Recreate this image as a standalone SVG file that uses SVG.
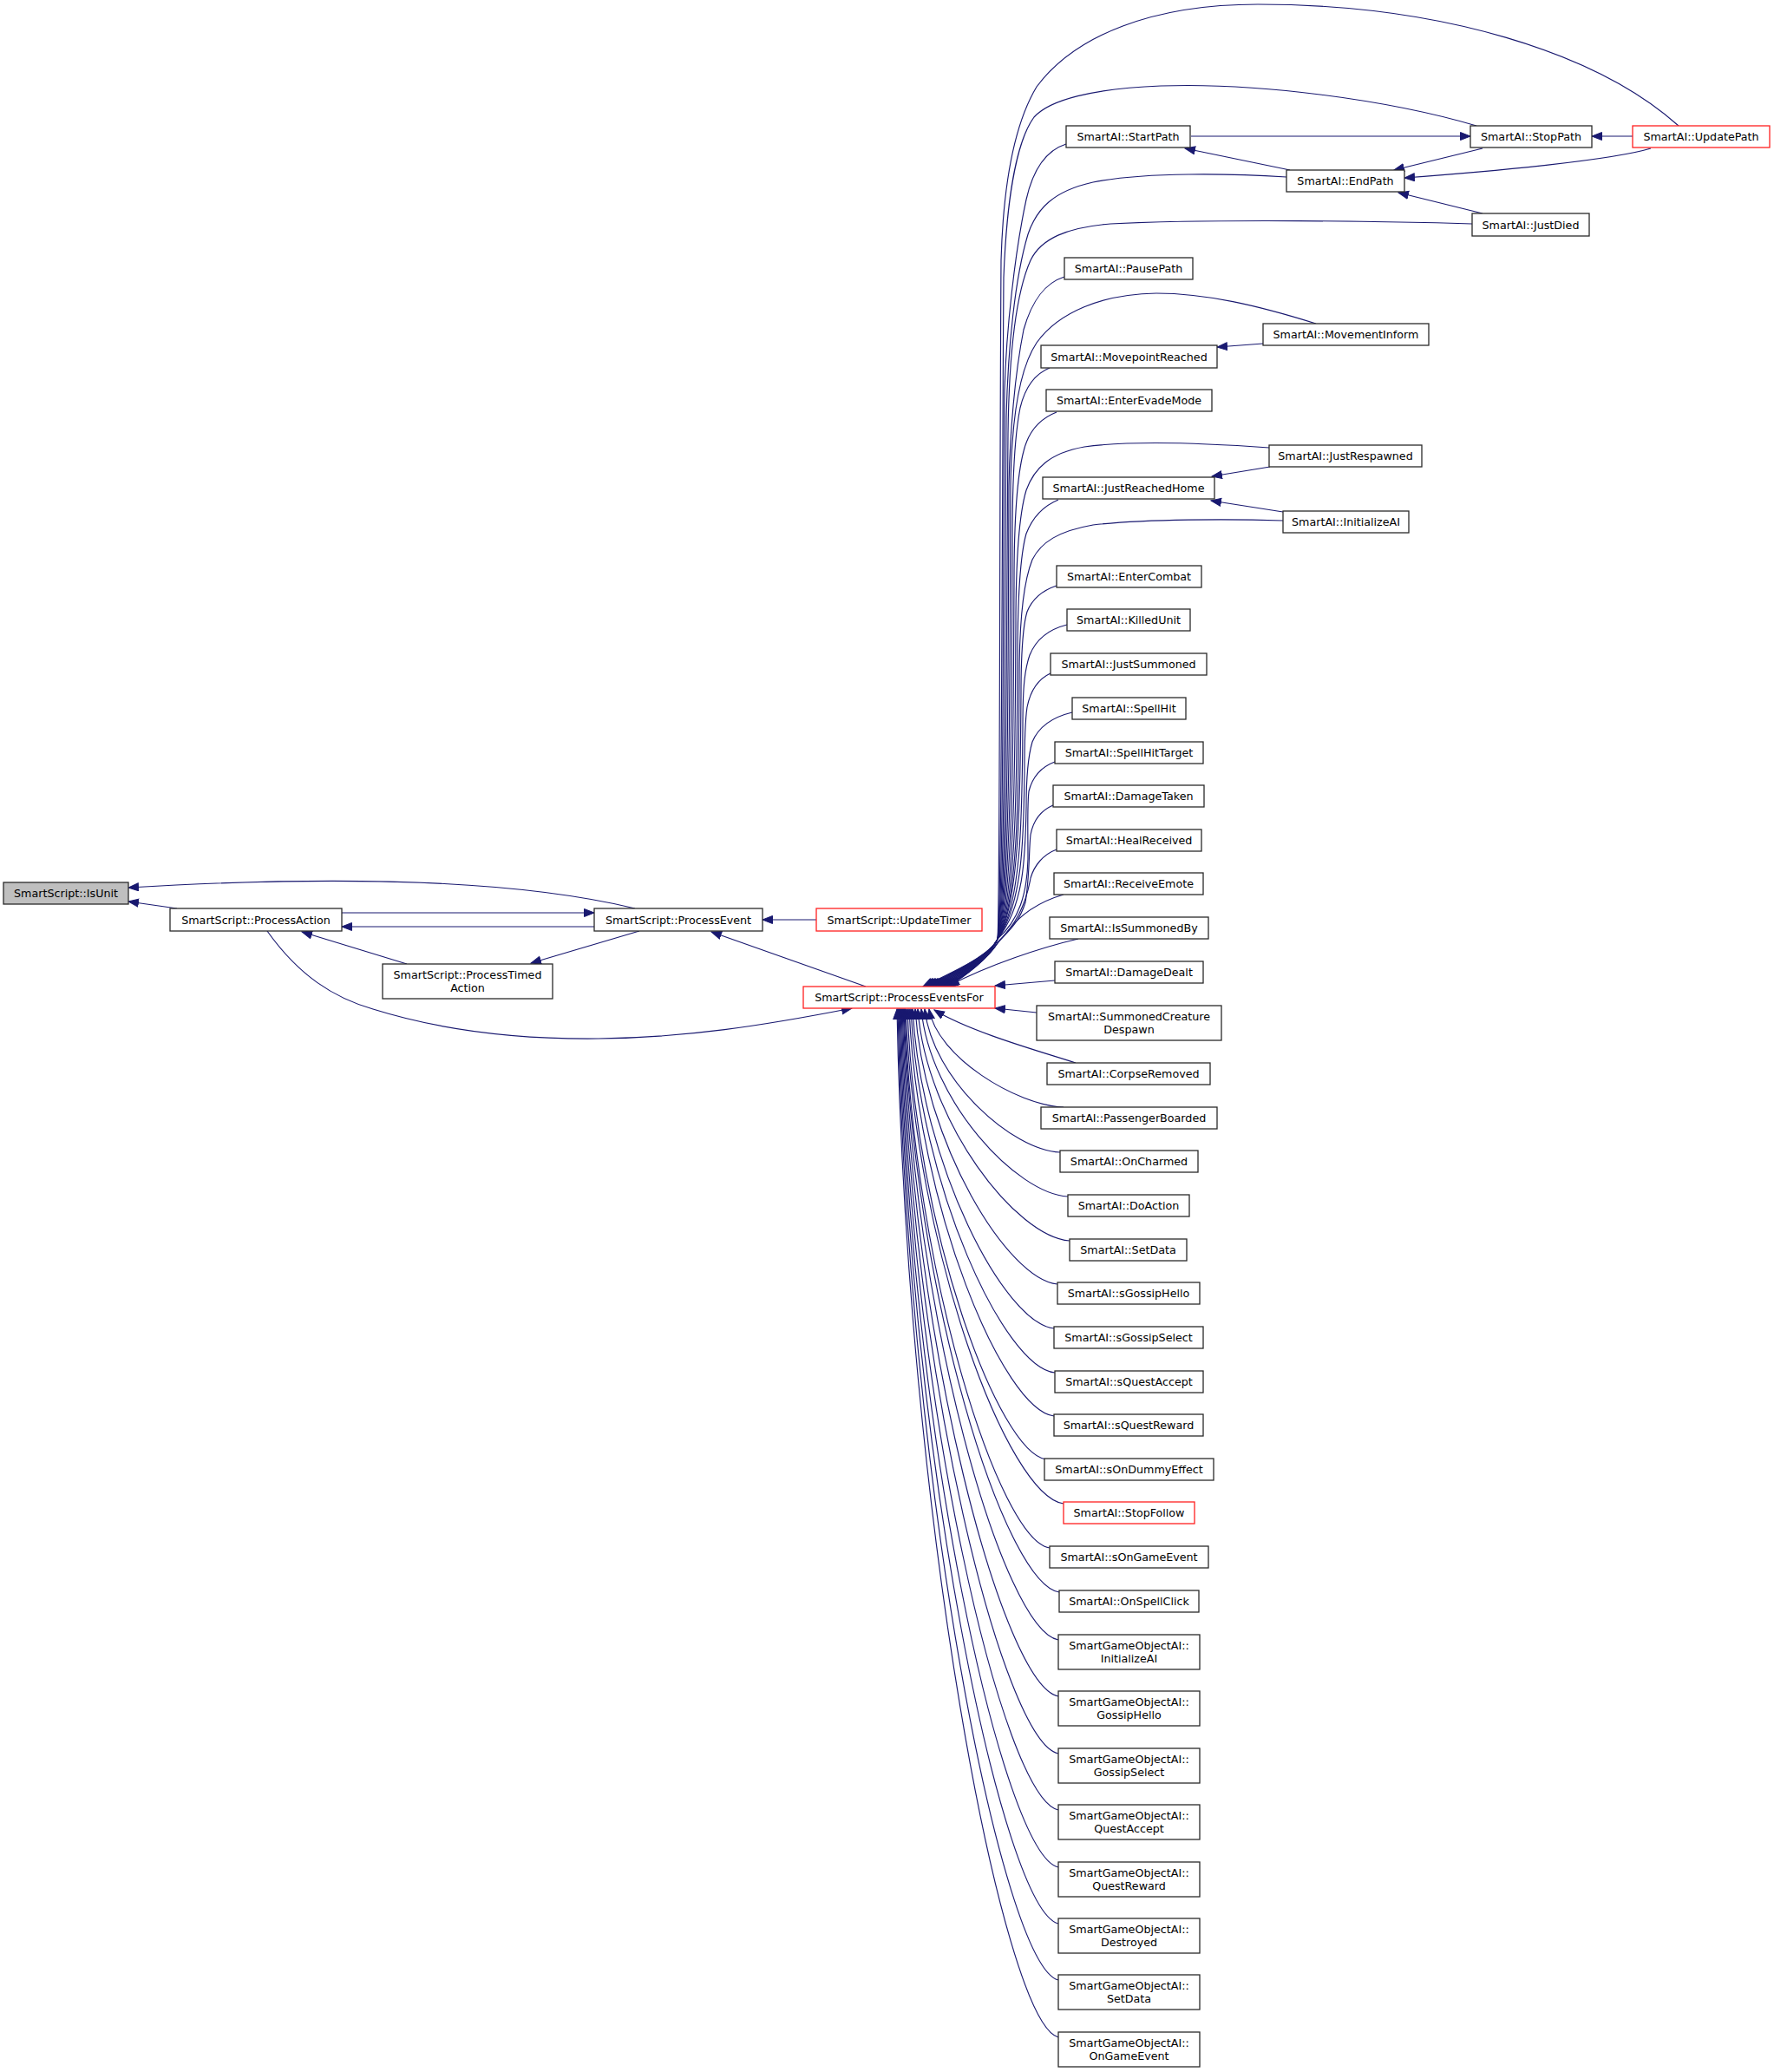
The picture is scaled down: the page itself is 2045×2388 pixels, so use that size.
<svg xmlns="http://www.w3.org/2000/svg" width="2045" height="2388" viewBox="0 0 2045 2388">
<style>
.node rect{fill:#ffffff;stroke:#2a2a2a;stroke-width:1.3}
.node.red rect{stroke:#ff2020}
.node.hl rect{fill:#bfbfbf}
.node text{font-family:"DejaVu Sans","Liberation Sans",sans-serif;font-size:12.7px;text-anchor:middle;fill:#000}
.edges path{fill:none;stroke:#191970;stroke-width:1.15;marker-end:url(#ah)}
</style>
<defs>
<marker id="ah" markerUnits="userSpaceOnUse" viewBox="0 0 13 11" markerWidth="13" markerHeight="11" refX="12" refY="5" orient="auto">
<path d="M0.5,0.5 L12,5 L0.5,9.5 Z" fill="#191970" stroke="#191970" stroke-width="1"/>
</marker>
</defs>
<rect width="2045" height="2388" fill="#ffffff"/>
<g class="edges">
<path d="M204,1047 L148,1039"/>
<path d="M732,1047 C600,1015 400,1008 148,1023"/>
<path d="M394,1052 L685,1052"/>
<path d="M685,1068 L394,1068"/>
<path d="M469,1111 L348,1074"/>
<path d="M737,1073 L612,1110"/>
<path d="M308,1073 C345,1125 385,1150 430,1163 C510,1188 600,1198 690,1197 C790,1196 880,1182 982,1162"/>
<path d="M998,1137 L820,1074"/>
<path d="M941,1060 L879,1060"/>
<path d="M1373,157 L1695,157"/>
<path d="M1882,157 L1835,157"/>
<path d="M1487,196 L1366,171"/>
<path d="M1709,171 L1607,196"/>
<path d="M1903,171 C1860,184 1730,197 1619,205"/>
<path d="M1709,246 L1612,222"/>
<path d="M1456,396 L1403,400"/>
<path d="M1464,538 L1397,549"/>
<path d="M1479,590 L1396,577"/>
<path d="M1935,145 C1840,60 1660,5 1450,5 C1330,5 1240,40 1195,100 C1165,150 1156,230 1154,300 C1152,600 1153,1040 1150,1082 C1142,1102 1088,1125 1064,1137"/>
<path d="M1702,145 C1600,115 1450,95 1338,99 C1260,102 1210,115 1192,135 C1170,165 1160,240 1157,320 C1155,600 1155,1040 1150,1082 C1142,1102 1090,1125 1066,1137"/>
<path d="M1229,166 C1210,172 1192,190 1183,230 C1170,290 1160,380 1158,450 C1156,700 1157,1040 1150,1082 C1142,1102 1091,1125 1067,1137"/>
<path d="M1483,204 C1420,200 1320,198 1260,210 C1215,220 1195,240 1185,270 C1170,320 1162,400 1160,480 C1158,720 1159,1040 1150,1082 C1142,1102 1093,1125 1069,1137"/>
<path d="M1697,258 C1600,255 1400,252 1280,258 C1230,262 1200,275 1188,300 C1170,340 1163,420 1162,500 C1160,740 1161,1040 1150,1082 C1142,1102 1094,1125 1070,1137"/>
<path d="M1227,319 C1205,326 1190,345 1180,380 C1170,430 1164,500 1163,560 C1162,760 1163,1040 1150,1082 C1142,1102 1096,1125 1072,1137"/>
<path d="M1517,373 C1450,352 1390,338 1333,338 C1270,339 1220,360 1195,395 C1175,425 1166,480 1165,560 C1164,780 1165,1040 1150,1082 C1142,1102 1097,1125 1073,1137"/>
<path d="M1210,424 C1195,430 1182,445 1176,470 C1170,500 1167,560 1167,620 C1166,800 1167,1040 1150,1082 C1142,1102 1099,1125 1075,1137"/>
<path d="M1218,475 C1200,482 1186,495 1180,520 C1172,550 1169,610 1169,670 C1168,830 1169,1040 1150,1082 C1142,1102 1100,1125 1076,1137"/>
<path d="M1463,516 C1380,510 1300,508 1250,515 C1210,522 1192,540 1183,565 C1174,595 1171,650 1171,720 C1170,860 1171,1040 1150,1082 C1142,1102 1102,1125 1078,1137"/>
<path d="M1220,576 C1203,583 1190,597 1183,615 C1176,640 1173,700 1173,760 C1172,880 1173,1040 1150,1082 C1142,1102 1103,1125 1079,1137"/>
<path d="M1479,600 C1420,598 1320,598 1260,605 C1220,612 1200,625 1190,645 C1180,670 1175,720 1175,780 C1174,900 1175,1040 1150,1082 C1142,1102 1105,1125 1081,1137"/>
<path d="M1218,675 C1203,680 1190,690 1184,705 C1178,725 1177,760 1177,800 C1176,900 1177,1040 1150,1082 C1142,1102 1106,1125 1082,1137"/>
<path d="M1230,720 C1210,725 1195,735 1187,755 C1180,775 1179,800 1179,840 C1178,930 1179,1040 1150,1082 C1142,1102 1108,1125 1084,1137"/>
<path d="M1211,776 C1198,782 1188,795 1184,815 C1181,835 1181,860 1181,890 C1180,960 1180,1040 1150,1082 C1142,1102 1109,1125 1085,1137"/>
<path d="M1236,821 C1215,826 1198,836 1190,855 C1184,875 1183,900 1183,930 C1182,990 1180,1045 1150,1082 C1142,1102 1111,1125 1087,1137"/>
<path d="M1216,878 C1200,884 1190,896 1186,912 C1184,930 1185,960 1185,990 C1184,1030 1175,1060 1150,1082 C1142,1102 1112,1125 1088,1137"/>
<path d="M1214,928 C1200,934 1191,946 1188,962 C1186,980 1187,1010 1182,1040 C1176,1060 1165,1072 1150,1086 C1140,1104 1113,1125 1089,1137"/>
<path d="M1218,979 C1202,985 1192,998 1188,1012 C1184,1035 1175,1062 1152,1084 C1140,1104 1114,1125 1090,1137"/>
<path d="M1226,1031 C1195,1040 1175,1055 1160,1075 C1140,1100 1120,1122 1092,1137"/>
<path d="M1243,1082 C1200,1092 1140,1112 1094,1136"/>
<path d="M1216,1130 L1147,1136"/>
<path d="M1195,1167 L1147,1162"/>
<path d="M1240,1225 C1200,1212 1120,1190 1077,1164"/>
<path d="M1226,1276 C1172,1274 1080,1218 1071,1163"/>
<path d="M1222,1328 C1167,1326 1075,1244 1066,1163"/>
<path d="M1231,1379 C1172,1376 1072,1269 1062,1163"/>
<path d="M1233,1430 C1172,1426 1068,1294 1058,1163"/>
<path d="M1219,1480 C1162,1475 1065,1318 1055,1163"/>
<path d="M1215,1531 C1158,1525 1062,1343 1052,1163"/>
<path d="M1216,1582 C1158,1576 1060,1368 1050,1163"/>
<path d="M1215,1632 C1157,1625 1058,1393 1048,1163"/>
<path d="M1206,1682 C1151,1674 1055,1417 1046,1163"/>
<path d="M1226,1733 C1162,1724 1055,1442 1044,1163"/>
<path d="M1210,1784 C1152,1775 1053,1467 1043,1163"/>
<path d="M1221,1835 C1158,1825 1053,1492 1042,1163"/>
<path d="M1220,1890 C1157,1879 1052,1519 1041,1163"/>
<path d="M1220,1955 C1157,1943 1051,1551 1040,1163"/>
<path d="M1220,2021 C1157,2008 1050,1583 1039,1163"/>
<path d="M1220,2086 C1156,2072 1049,1615 1038,1163"/>
<path d="M1220,2152 C1156,2137 1048,1648 1037,1163"/>
<path d="M1220,2217 C1156,2201 1047,1679 1036,1163"/>
<path d="M1220,2282 C1155,2265 1046,1711 1035,1163"/>
<path d="M1220,2348 C1155,2330 1045,1744 1034,1163"/>
</g>
<g id="n_IsUnit" class="node hl"><rect x="4" y="1017" width="144" height="25"/><text x="76" y="1034">SmartScript::IsUnit</text></g>
<g id="n_ProcessAction" class="node"><rect x="196" y="1047" width="198" height="26"/><text x="295" y="1064.5">SmartScript::ProcessAction</text></g>
<g id="n_ProcessTimedAction" class="node"><rect x="441" y="1111" width="196" height="40"/><text x="539" y="1128">SmartScript::ProcessTimed</text><text x="539" y="1142.5">Action</text></g>
<g id="n_ProcessEvent" class="node"><rect x="685" y="1047" width="194" height="26"/><text x="782" y="1064.5">SmartScript::ProcessEvent</text></g>
<g id="n_UpdateTimer" class="node red"><rect x="941" y="1047" width="191" height="26"/><text x="1036.5" y="1064.5">SmartScript::UpdateTimer</text></g>
<g id="n_ProcessEventsFor" class="node red"><rect x="926" y="1137" width="221" height="25"/><text x="1036.5" y="1154">SmartScript::ProcessEventsFor</text></g>
<g id="n_StartPath" class="node"><rect x="1229" y="145" width="143" height="25"/><text x="1300.5" y="162">SmartAI::StartPath</text></g>
<g id="n_StopPath" class="node"><rect x="1695" y="145" width="140" height="25"/><text x="1765" y="162">SmartAI::StopPath</text></g>
<g id="n_UpdatePath" class="node red"><rect x="1882" y="145" width="158" height="25"/><text x="1961" y="162">SmartAI::UpdatePath</text></g>
<g id="n_EndPath" class="node"><rect x="1483" y="196" width="136" height="25"/><text x="1551" y="213">SmartAI::EndPath</text></g>
<g id="n_JustDied" class="node"><rect x="1697" y="246" width="135" height="26"/><text x="1764.5" y="263.5">SmartAI::JustDied</text></g>
<g id="n_PausePath" class="node"><rect x="1227" y="297" width="148" height="25"/><text x="1301" y="314">SmartAI::PausePath</text></g>
<g id="n_MovementInform" class="node"><rect x="1456" y="373" width="191" height="25"/><text x="1551.5" y="390">SmartAI::MovementInform</text></g>
<g id="n_MovepointReached" class="node"><rect x="1200" y="398" width="203" height="26"/><text x="1301.5" y="415.5">SmartAI::MovepointReached</text></g>
<g id="n_EnterEvadeMode" class="node"><rect x="1206" y="449" width="191" height="25"/><text x="1301.5" y="466">SmartAI::EnterEvadeMode</text></g>
<g id="n_JustRespawned" class="node"><rect x="1463" y="513" width="176" height="25"/><text x="1551" y="530">SmartAI::JustRespawned</text></g>
<g id="n_JustReachedHome" class="node"><rect x="1202" y="550" width="198" height="25"/><text x="1301" y="567">SmartAI::JustReachedHome</text></g>
<g id="n_InitializeAI" class="node"><rect x="1479" y="589" width="145" height="25"/><text x="1551.5" y="606">SmartAI::InitializeAI</text></g>
<g id="n_EnterCombat" class="node"><rect x="1218" y="652" width="167" height="25"/><text x="1301.5" y="669">SmartAI::EnterCombat</text></g>
<g id="n_KilledUnit" class="node"><rect x="1230" y="702" width="142" height="25"/><text x="1301" y="719">SmartAI::KilledUnit</text></g>
<g id="n_JustSummoned" class="node"><rect x="1211" y="753" width="180" height="25"/><text x="1301" y="770">SmartAI::JustSummoned</text></g>
<g id="n_SpellHit" class="node"><rect x="1236" y="804" width="131" height="25"/><text x="1301.5" y="821">SmartAI::SpellHit</text></g>
<g id="n_SpellHitTarget" class="node"><rect x="1216" y="855" width="171" height="25"/><text x="1301.5" y="872">SmartAI::SpellHitTarget</text></g>
<g id="n_DamageTaken" class="node"><rect x="1214" y="905" width="174" height="25"/><text x="1301" y="922">SmartAI::DamageTaken</text></g>
<g id="n_HealReceived" class="node"><rect x="1218" y="956" width="167" height="25"/><text x="1301.5" y="973">SmartAI::HealReceived</text></g>
<g id="n_ReceiveEmote" class="node"><rect x="1215" y="1006" width="172" height="25"/><text x="1301" y="1023">SmartAI::ReceiveEmote</text></g>
<g id="n_IsSummonedBy" class="node"><rect x="1210" y="1057" width="183" height="25"/><text x="1301.5" y="1074">SmartAI::IsSummonedBy</text></g>
<g id="n_DamageDealt" class="node"><rect x="1216" y="1108" width="171" height="25"/><text x="1301.5" y="1125">SmartAI::DamageDealt</text></g>
<g id="n_SummonedCreatureDespawn" class="node"><rect x="1195" y="1159" width="213" height="40"/><text x="1301.5" y="1176">SmartAI::SummonedCreature</text><text x="1301.5" y="1190.5">Despawn</text></g>
<g id="n_CorpseRemoved" class="node"><rect x="1207" y="1225" width="188" height="25"/><text x="1301" y="1242">SmartAI::CorpseRemoved</text></g>
<g id="n_PassengerBoarded" class="node"><rect x="1200" y="1276" width="203" height="25"/><text x="1301.5" y="1293">SmartAI::PassengerBoarded</text></g>
<g id="n_OnCharmed" class="node"><rect x="1222" y="1326" width="159" height="25"/><text x="1301.5" y="1343">SmartAI::OnCharmed</text></g>
<g id="n_DoAction" class="node"><rect x="1231" y="1377" width="140" height="25"/><text x="1301" y="1394">SmartAI::DoAction</text></g>
<g id="n_SetData" class="node"><rect x="1233" y="1428" width="135" height="25"/><text x="1300.5" y="1445">SmartAI::SetData</text></g>
<g id="n_sGossipHello" class="node"><rect x="1219" y="1478" width="164" height="25"/><text x="1301" y="1495">SmartAI::sGossipHello</text></g>
<g id="n_sGossipSelect" class="node"><rect x="1215" y="1529" width="172" height="25"/><text x="1301" y="1546">SmartAI::sGossipSelect</text></g>
<g id="n_sQuestAccept" class="node"><rect x="1216" y="1580" width="171" height="25"/><text x="1301.5" y="1597">SmartAI::sQuestAccept</text></g>
<g id="n_sQuestReward" class="node"><rect x="1215" y="1630" width="172" height="25"/><text x="1301" y="1647">SmartAI::sQuestReward</text></g>
<g id="n_sOnDummyEffect" class="node"><rect x="1204" y="1681" width="195" height="25"/><text x="1301.5" y="1698">SmartAI::sOnDummyEffect</text></g>
<g id="n_StopFollow" class="node red"><rect x="1226" y="1731" width="151" height="25"/><text x="1301.5" y="1748">SmartAI::StopFollow</text></g>
<g id="n_sOnGameEvent" class="node"><rect x="1210" y="1782" width="183" height="25"/><text x="1301.5" y="1799">SmartAI::sOnGameEvent</text></g>
<g id="n_OnSpellClick" class="node"><rect x="1221" y="1833" width="161" height="25"/><text x="1301.5" y="1850">SmartAI::OnSpellClick</text></g>
<g id="n_SGO_InitializeAI" class="node"><rect x="1220" y="1884" width="163" height="40"/><text x="1301.5" y="1901">SmartGameObjectAI::</text><text x="1301.5" y="1915.5">InitializeAI</text></g>
<g id="n_SGO_GossipHello" class="node"><rect x="1220" y="1949" width="163" height="40"/><text x="1301.5" y="1966">SmartGameObjectAI::</text><text x="1301.5" y="1980.5">GossipHello</text></g>
<g id="n_SGO_GossipSelect" class="node"><rect x="1220" y="2015" width="163" height="40"/><text x="1301.5" y="2032">SmartGameObjectAI::</text><text x="1301.5" y="2046.5">GossipSelect</text></g>
<g id="n_SGO_QuestAccept" class="node"><rect x="1220" y="2080" width="163" height="40"/><text x="1301.5" y="2097">SmartGameObjectAI::</text><text x="1301.5" y="2111.5">QuestAccept</text></g>
<g id="n_SGO_QuestReward" class="node"><rect x="1220" y="2146" width="163" height="40"/><text x="1301.5" y="2163">SmartGameObjectAI::</text><text x="1301.5" y="2177.5">QuestReward</text></g>
<g id="n_SGO_Destroyed" class="node"><rect x="1220" y="2211" width="163" height="40"/><text x="1301.5" y="2228">SmartGameObjectAI::</text><text x="1301.5" y="2242.5">Destroyed</text></g>
<g id="n_SGO_SetData" class="node"><rect x="1220" y="2276" width="163" height="40"/><text x="1301.5" y="2293">SmartGameObjectAI::</text><text x="1301.5" y="2307.5">SetData</text></g>
<g id="n_SGO_OnGameEvent" class="node"><rect x="1220" y="2342" width="163" height="40"/><text x="1301.5" y="2359">SmartGameObjectAI::</text><text x="1301.5" y="2373.5">OnGameEvent</text></g>
</svg>
